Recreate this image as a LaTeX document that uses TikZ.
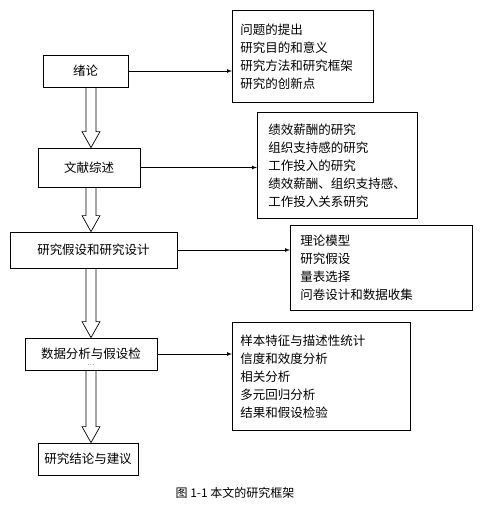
\documentclass[tikz,border=0pt]{standalone}
\usepackage{fontspec}
\newfontfamily\cjk{Noto Sans CJK SC}
\usepackage{tikz}
\usetikzlibrary{arrows, calc}
\tikzset{
    stage/.style={draw=black, line width=0.8pt, font=\cjk\fontsize{12.5}{15}\selectfont, inner sep=0pt},
    topics/.style={draw=black, line width=0.8pt, anchor=north west, align=left,
        font=\cjk\fontsize{12.5}{18}\selectfont, inner ysep=0pt},
    link/.style={-latex, line width=0.7pt},
    hollow/.style={draw=black, line width=0.7pt, line join=miter}
}
% wide open arrow between two stages, on the spine line
\newcommand{\hollowarrow}[2]{%
    \draw[hollow] ($(spine |- #1.south)+(-5,0)$) -- ($(spine |- #2.north)+(-5,-16)$)
        -- ($(spine |- #2.north)+(-9,-16)$) -- (spine |- #2.north)
        -- ($(spine |- #2.north)+(9,-16)$) -- ($(spine |- #2.north)+(5,-16)$)
        -- ($(spine |- #1.south)+(5,0)$);}

\begin{document}
\begin{tikzpicture}[x=1pt, y=-1pt]
    \useasboundingbox (0,0) rectangle (483,517);
    \coordinate (spine) at (91,0);

    % stages
    \node[stage, minimum width=85, minimum height=32] (intro) at (85.5,71) {绪论};
    \node[stage, minimum width=102, minimum height=39] (review) at (89,167.5) {文献综述};
    \node[stage, minimum width=167, minimum height=36] (hypo) at (93.5,250) {研究假设和研究设计};
    \node[stage, minimum width=132, minimum height=32,
        label={[font=\scriptsize, inner sep=0pt, anchor=base, yshift=5pt]south:...}] (analysis) at (91,354) {数据分析与假设检};
    \node[stage, minimum width=100, minimum height=32] (concl) at (88,459) {研究结论与建议};

    % contents of each stage
    \node[topics, minimum width=141, minimum height=92, inner xsep=8, text width=125] (introlist) at (232,10)
        {问题的提出\\研究目的和意义\\研究方法和研究框架\\研究的创新点};
    \node[topics, minimum width=160, minimum height=106, inner xsep=11, text width=138] (reviewlist) at (257,112)
        {绩效薪酬的研究\\组织支持感的研究\\工作投入的研究\\绩效薪酬、组织支持感、\\工作投入关系研究};
    \node[topics, minimum width=182, minimum height=85, inner xsep=10, text width=162] (hypolist) at (290,225)
        {理论模型\\研究假设\\量表选择\\问卷设计和数据收集};
    \node[topics, minimum width=178, minimum height=108, inner xsep=8, text width=162] (analysislist) at (232,322)
        {样本特征与描述性统计\\信度和效度分析\\相关分析\\多元回归分析\\结果和假设检验};

    \draw[link] (intro.east) -- (intro.east -| introlist.west);
    \draw[link] (review.east) -- (review.east -| reviewlist.west);
    \draw[link] (hypo.east) -- (hypo.east -| hypolist.west);
    \draw[link] (analysis.east) -- (analysis.east -| analysislist.west);

    \hollowarrow{intro}{review}
    \hollowarrow{review}{hypo}
    \hollowarrow{hypo}{analysis}
    \hollowarrow{analysis}{concl}

    \node[font=\cjk\fontsize{12}{14}\selectfont] (caption) at (235,493) {图 1-1 本文的研究框架};
\end{tikzpicture}
\end{document}
